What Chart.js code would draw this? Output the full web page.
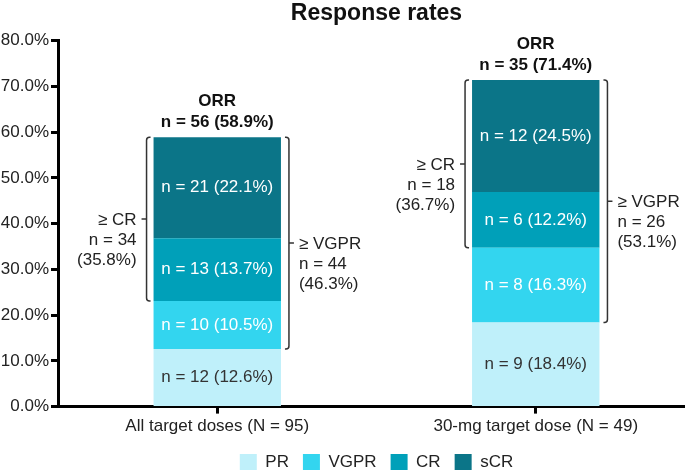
<!DOCTYPE html>
<html>
<head>
<meta charset="utf-8">
<script src="https://cdn.jsdelivr.net/npm/chart.js@4.4.1/dist/chart.umd.min.js"></script>
<style>
  html, body { margin: 0; padding: 0; background: #fff; overflow: hidden; }
  #wrap { width: 695px; height: 470px; }
</style>
</head>
<body>
<div id="wrap"><canvas id="my-chart" width="695" height="470"></canvas></div>
<script>
// groups on the x axis
var groupNames = ['All target doses', '30-mg target dose'];
var groupTotals = [95, 49];

// response categories, bottom to top
var seriesNames = ['PR', 'VGPR', 'CR', 'sCR'];
var seriesColors = ['#bff0fa', '#33d5ef', '#00a0b9', '#0b7588'];

// percent of patients per category
var prPct = [12.6, 18.4];
var vgprPct = [10.5, 16.3];
var crPct = [13.7, 12.2];
var scrPct = [22.1, 24.5];

// patient counts per category
var prN = [12, 9];
var vgprN = [10, 8];
var crN = [13, 6];
var scrN = [21, 12];

// overall response and bracket summaries
var orrN = [56, 35];
var orrPct = [58.9, 71.4];
var atLeastCrN = [34, 18];
var atLeastCrPct = [35.8, 36.7];
var atLeastVgprN = [44, 26];
var atLeastVgprPct = [46.3, 53.1];

// y axis ticks
var yTicks = [0, 10, 20, 30, 40, 50, 60, 70, 80];

var fontFamily = "'Liberation Sans', Arial, Helvetica, sans-serif";
var textColor = '#222';
Chart.defaults.font.family = fontFamily;
Chart.defaults.color = textColor;

var pctList = [prPct, vgprPct, crPct, scrPct];
var countList = [prN, vgprN, crN, scrN];

var labels = [];
for (var g = 0; g < groupNames.length; g++) {
  labels.push(groupNames[g] + ' (N = ' + groupTotals[g] + ')');
}

var datasets = [];
for (var s = 0; s < seriesNames.length; s++) {
  datasets.push({
    label: seriesNames[s],
    data: pctList[s],
    backgroundColor: seriesColors[s],
    borderWidth: 0,
    barPercentage: 0.5,
    categoryPercentage: 0.8
  });
}

function sumTo(i, upto) {
  var t = 0;
  for (var k = 0; k < upto; k++) t += pctList[k][i];
  return t;
}

function bracket(ctx, x, top, bottom, dir) {
  // dir: +1 hooks point right (bracket left of bar), -1 hooks point left
  var hook = 4;
  var r = 3;
  var mid = (top + bottom) / 2;
  ctx.beginPath();
  ctx.moveTo(x + dir * hook, top);
  ctx.arcTo(x, top, x, top + r, r);
  ctx.lineTo(x, bottom - r);
  ctx.arcTo(x, bottom, x + dir * hook, bottom, r);
  ctx.lineTo(x + dir * hook, bottom);
  ctx.moveTo(x, mid);
  ctx.lineTo(x - dir * 5, mid);
  ctx.stroke();
  return mid;
}

var annotations = {
  id: 'annotations',
  afterDatasetsDraw: function(chart) {
    var ctx = chart.ctx;
    var yScale = chart.scales.y;
    ctx.save();
    ctx.textAlign = 'center';
    ctx.textBaseline = 'middle';
    ctx.font = '17px ' + fontFamily;

    // labels inside bar segments
    for (var d = 0; d < chart.data.datasets.length; d++) {
      var meta = chart.getDatasetMeta(d);
      for (var i = 0; i < meta.data.length; i++) {
        var bar = meta.data[i];
        ctx.fillStyle = d === 0 ? '#333' : '#fff';
        ctx.fillText('n = ' + countList[d][i] + ' (' + pctList[d][i].toFixed(1) + '%)', bar.x, (bar.y + bar.base) / 2);
      }
    }

    var first = chart.getDatasetMeta(0);
    ctx.strokeStyle = '#333';
    ctx.lineWidth = 1.5;
    for (var j = 0; j < first.data.length; j++) {
      var b = first.data[j];
      var left = b.x - b.width / 2;
      var right = b.x + b.width / 2;
      var topY = yScale.getPixelForValue(sumTo(j, 4));
      var crBottom = yScale.getPixelForValue(sumTo(j, 2));
      var vgprBottom = yScale.getPixelForValue(sumTo(j, 1));

      // ORR on top
      ctx.fillStyle = '#111';
      ctx.textAlign = 'center';
      ctx.font = 'bold 17px ' + fontFamily;
      ctx.fillText('ORR', b.x, topY - 36);
      ctx.fillText('n = ' + orrN[j] + ' (' + orrPct[j].toFixed(1) + '%)', b.x, topY - 15);

      // >= CR bracket on the left
      ctx.font = '17px ' + fontFamily;
      ctx.fillStyle = textColor;
      var lx = left - 7;
      var m1 = bracket(ctx, lx, topY, crBottom, 1);
      ctx.textAlign = 'right';
      ctx.fillText('\u2265 CR', lx - 10, m1 + 1);
      ctx.fillText('n = ' + atLeastCrN[j], lx - 10, m1 + 21);
      ctx.fillText('(' + atLeastCrPct[j].toFixed(1) + '%)', lx - 10, m1 + 41);

      // >= VGPR bracket on the right
      var rx = right + 8;
      var m2 = bracket(ctx, rx, topY, vgprBottom, -1);
      ctx.textAlign = 'left';
      ctx.fillText('\u2265 VGPR', rx + 10, m2 + 1);
      ctx.fillText('n = ' + atLeastVgprN[j], rx + 10, m2 + 21);
      ctx.fillText('(' + atLeastVgprPct[j].toFixed(1) + '%)', rx + 10, m2 + 41);
    }
    ctx.restore();
  }
};

var ctx = document.getElementById('my-chart');
var responseChart = new Chart(ctx, {
  type: 'bar',
  data: { labels: labels, datasets: datasets },
  options: {
    responsive: false,
    animation: false,
    layout: { padding: { top: 0, bottom: -11, left: 0, right: 0 } },
    plugins: {
      title: {
        display: true,
        text: 'Response rates',
        fullSize: false,
        color: '#111',
        font: { size: 23, weight: 'bold' },
        padding: { top: 0, bottom: 13 }
      },
      legend: {
        position: 'bottom',
        fullSize: false,
        labels: {
          boxWidth: 17,
          boxHeight: 17,
          padding: 14,
          color: textColor,
          font: { size: 17 }
        }
      },
      tooltip: { enabled: false }
    },
    scales: {
      x: {
        stacked: true,
        grid: { drawOnChartArea: false, offset: false, tickLength: 7, tickWidth: 3, tickColor: '#000' },
        border: { color: '#000', width: 3 },
        ticks: { color: textColor, font: { size: 17 }, padding: 3, maxRotation: 0 }
      },
      y: {
        stacked: true,
        min: 0,
        max: 80,
        afterFit: function(scale) { scale.width = 58; },
        afterBuildTicks: function(scale) {
          scale.ticks = yTicks.map(function(v) { return { value: v }; });
        },
        grid: { drawOnChartArea: false, tickLength: 7, tickWidth: 3, tickColor: '#000' },
        border: { color: '#000', width: 3 },
        ticks: {
          color: textColor,
          font: { size: 17 },
          padding: 2,
          callback: function(v) { return Number(v).toFixed(1) + '%'; }
        }
      }
    }
  },
  plugins: [annotations]
});
</script>
</body>
</html>
